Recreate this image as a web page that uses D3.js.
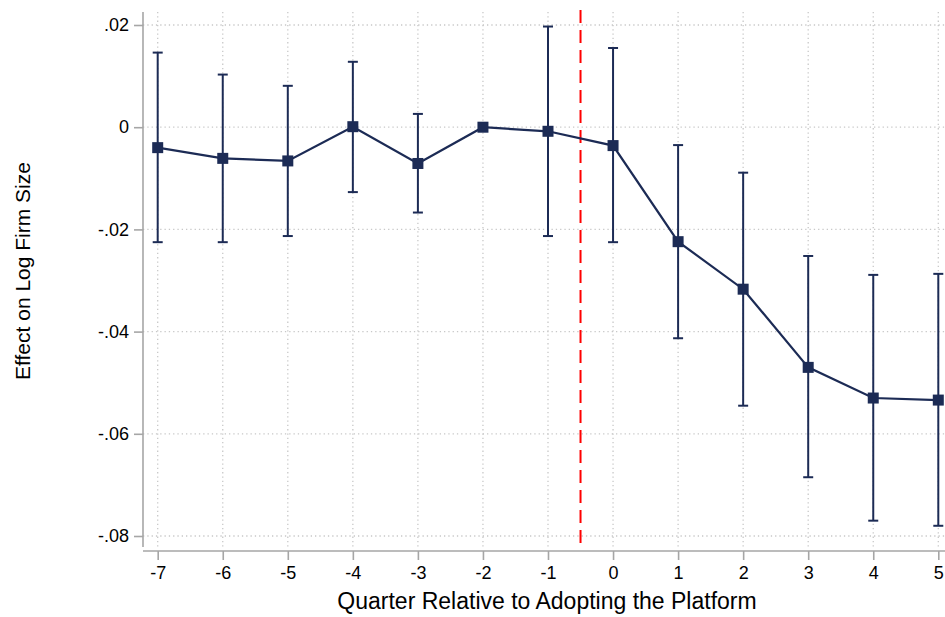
<!DOCTYPE html>
<html>
<head>
<meta charset="utf-8">
<script src="https://cdn.jsdelivr.net/npm/d3@7/dist/d3.min.js"></script>
<style>
  html, body { margin: 0; padding: 0; background: #fff; }
  svg { display: block; font-family: "Liberation Sans", Arial, Helvetica, sans-serif; }
</style>
</head>
<body>
<svg id="chart" width="945" height="617"></svg>
<script>
// Event-study estimates: quarters relative to platform adoption
const quarters = [-7, -6, -5, -4, -3, -2, -1, 0, 1, 2, 3, 4, 5];
const estimates = [-0.0040, -0.0061, -0.0066, 0.0001, -0.0071, 0.0000, -0.0008, -0.0036, -0.0224, -0.0317, -0.0470, -0.0530, -0.0534];
const ciUpper = [0.0146, 0.0103, 0.0081, 0.0128, 0.0026, null, 0.0197, 0.0155, -0.0035, -0.0089, -0.0252, -0.0289, -0.0287];
const ciLower = [-0.0225, -0.0225, -0.0213, -0.0127, -0.0167, null, -0.0213, -0.0225, -0.0413, -0.0545, -0.0685, -0.0770, -0.0780];
const yTicks = [0.02, 0, -0.02, -0.04, -0.06, -0.08];
const yTickLabels = [".02", "0", "-.02", "-.04", "-.06", "-.08"];
const xTicks = quarters;
const xTickLabels = ["-7", "-6", "-5", "-4", "-3", "-2", "-1", "0", "1", "2", "3", "4", "5"];
const adoptionLine = -0.5;

const svg = d3.select("#chart");
const W = 945, H = 617;
const navy = "#1c2b55";
const axisGray = "#a6a6a6";

const x = d3.scaleLinear().domain([-7, 5]).range([157.7, 938.3]);
const y = d3.scaleLinear().domain([-0.08, 0.02]).range([536, 25]);

const plotTop = 12, plotBottom = 547, plotLeft = 143, plotRight = W;

// Dotted grid
const grid = svg.append("g");
grid.selectAll("line.h").data(yTicks).join("line")
  .attr("x1", plotLeft).attr("x2", plotRight)
  .attr("y1", d => y(d)).attr("y2", d => y(d))
  .attr("stroke", "#c8c8c8").attr("stroke-width", 1.3)
  .attr("stroke-dasharray", "1.3,3");
grid.selectAll("line.v").data(xTicks).join("line")
  .attr("x1", d => x(d)).attr("x2", d => x(d))
  .attr("y1", plotTop).attr("y2", plotBottom)
  .attr("stroke", "#c8c8c8").attr("stroke-width", 1.3)
  .attr("stroke-dasharray", "1.3,3");

// Y axis
const yAxis = svg.append("g").attr("transform", `translate(${plotLeft},0)`)
  .call(d3.axisLeft(y).tickValues(yTicks)
    .tickFormat((d, i) => yTickLabels[i]).tickSize(9).tickPadding(5));
yAxis.select(".domain").attr("d", `M0,${plotTop}V${plotBottom}`).attr("stroke", axisGray).attr("stroke-width", 1.6);
yAxis.selectAll(".tick line").attr("stroke", axisGray).attr("stroke-width", 1.6);
yAxis.selectAll(".tick text").attr("font-size", 18).attr("fill", "#000")
  .attr("font-family", "'Liberation Sans', Arial, sans-serif");

// X axis
const xAxis = svg.append("g").attr("transform", `translate(0,551)`)
  .call(d3.axisBottom(x).tickValues(xTicks)
    .tickFormat((d, i) => xTickLabels[i]).tickSize(9).tickPadding(6));
xAxis.select(".domain").attr("d", `M${plotLeft},0H${W}`).attr("stroke", axisGray).attr("stroke-width", 1.6);
xAxis.selectAll(".tick line").attr("stroke", axisGray).attr("stroke-width", 1.6);
xAxis.selectAll(".tick text").attr("font-size", 18).attr("fill", "#000")
  .attr("font-family", "'Liberation Sans', Arial, sans-serif");

// Axis titles
svg.append("text").attr("x", 547).attr("y", 609).attr("text-anchor", "middle")
  .attr("font-size", 23).attr("fill", "#000")
  .text("Quarter Relative to Adopting the Platform");
svg.append("text").attr("transform", "translate(30,271) rotate(-90)").attr("text-anchor", "middle")
  .attr("font-size", 21).attr("fill", "#000")
  .text("Effect on Log Firm Size");

// Adoption reference line
svg.append("line")
  .attr("x1", x(adoptionLine)).attr("x2", x(adoptionLine))
  .attr("y1", 10).attr("y2", plotBottom + 3)
  .attr("stroke", "#ff0000").attr("stroke-width", 2)
  .attr("stroke-dasharray", "13,7");

const pts = quarters.map((q, i) => ({ q, est: estimates[i], hi: ciUpper[i], lo: ciLower[i] }));

// Confidence intervals
const ci = svg.append("g").attr("stroke", navy).attr("stroke-width", 2);
const ciPts = pts.filter(d => d.hi !== null);
ci.selectAll("line.bar").data(ciPts).join("line")
  .attr("x1", d => x(d.q)).attr("x2", d => x(d.q))
  .attr("y1", d => y(d.hi)).attr("y2", d => y(d.lo));
ci.selectAll("line.capHi").data(ciPts).join("line")
  .attr("x1", d => x(d.q) - 5).attr("x2", d => x(d.q) + 5)
  .attr("y1", d => y(d.hi)).attr("y2", d => y(d.hi));
ci.selectAll("line.capLo").data(ciPts).join("line")
  .attr("x1", d => x(d.q) - 5).attr("x2", d => x(d.q) + 5)
  .attr("y1", d => y(d.lo)).attr("y2", d => y(d.lo));

// Point estimate line
svg.append("path").datum(pts)
  .attr("fill", "none").attr("stroke", navy).attr("stroke-width", 2.2)
  .attr("d", d3.line().x(d => x(d.q)).y(d => y(d.est)));

// Square markers
const s = 11;
svg.append("g").selectAll("rect").data(pts).join("rect")
  .attr("x", d => x(d.q) - s / 2).attr("y", d => y(d.est) - s / 2)
  .attr("width", s).attr("height", s).attr("fill", navy);
</script>
</body>
</html>
